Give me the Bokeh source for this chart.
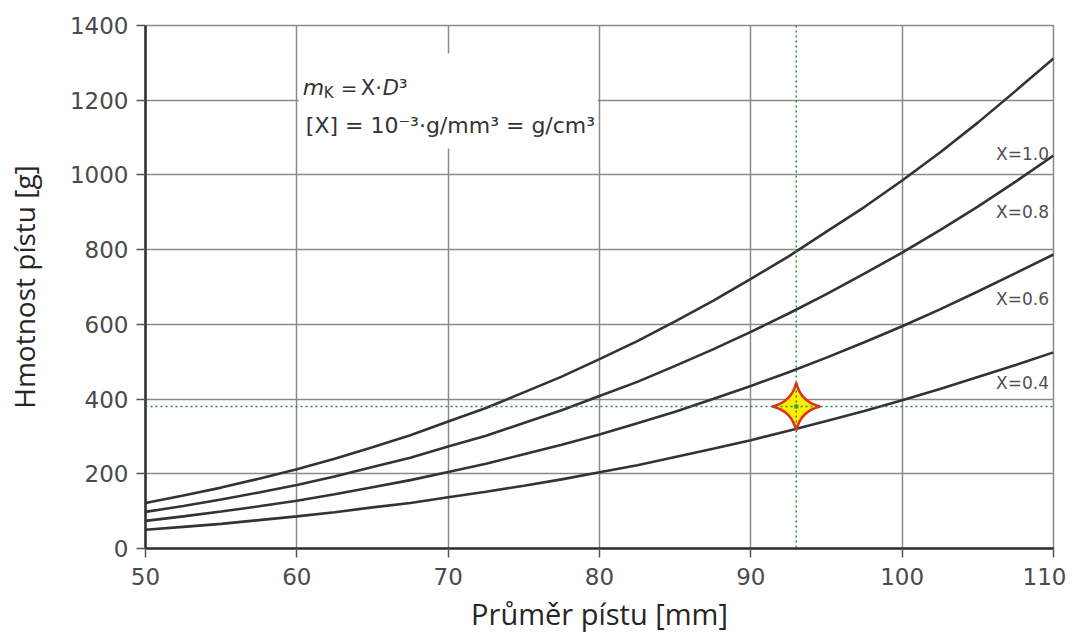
import math
from bokeh.plotting import figure
from bokeh.models import Span, Label, FixedTicker
from bokeh.embed import file_html
from bokeh.resources import INLINE

# ---- data ----
diameter_mm = [50, 52.5, 55, 57.5, 60, 62.5, 65, 67.5, 70, 72.5, 75, 77.5, 80,
               82.5, 85, 87.5, 90, 92.5, 95, 97.5, 100, 102.5, 105, 107.5, 110]
mass_x10 = [122, 142, 163, 187, 212, 240, 271, 303, 340, 376, 418, 460, 507,
            555, 608, 663, 722, 782, 848, 914, 985, 1060, 1140, 1225, 1312]
mass_x08 = [98, 114, 131, 150, 170, 193, 218, 243, 273, 302, 336, 370, 408,
            446, 489, 533, 580, 629, 681, 736, 792, 852, 915, 982, 1052]
mass_x06 = [74, 86, 99, 113, 128, 145, 164, 183, 205, 227, 252, 278, 305,
            335, 366, 400, 435, 472, 511, 552, 595, 640, 688, 737, 787]
mass_x04 = [50, 58, 66, 76, 86, 97, 110, 122, 137, 152, 168, 185, 204,
            223, 245, 267, 290, 315, 341, 368, 397, 427, 459, 491, 525]
curve_names = ["X=1.0", "X=0.8", "X=0.6", "X=0.4"]
x_ticks = [50, 60, 70, 80, 90, 100, 110]
y_ticks = [0, 200, 400, 600, 800, 1000, 1200, 1400]
point_d = [93]
point_m = [380]

GRID = "#8a8a8a"
CURVE = "#333333"
TXT = "#4a4a4a"
NUM_FONT = "DejaVu Sans"

p = figure(width=1066, height=643, x_range=(50, 110), y_range=(0, 1400),
           output_backend="svg", toolbar_location=None,
           min_border_left=145, min_border_right=13, min_border_top=25, min_border_bottom=95)
p.background_fill_color = "white"
p.border_fill_color = "white"
p.outline_line_color = GRID
p.outline_line_width = 1.5

for ax in (p.xaxis[0], p.yaxis[0]):
    ax.axis_line_color = "#2f2f2f"
    ax.axis_line_width = 2.5
    ax.major_tick_line_color = "#555555"
    ax.major_tick_line_width = 1.5
    ax.major_tick_out = 9
    ax.major_tick_in = 0
    ax.minor_tick_line_color = None
    ax.major_label_text_font = NUM_FONT
    ax.major_label_text_font_size = "23px"
    ax.major_label_text_color = TXT
    ax.axis_label_text_font = "Open Sans"
    ax.axis_label_text_font_style = "normal"
    ax.axis_label_text_color = "#262626"

p.xaxis.ticker = FixedTicker(ticks=x_ticks)
p.yaxis.ticker = FixedTicker(ticks=y_ticks)
p.yaxis.axis_label = "Hmotnost pístu [g]"
p.yaxis.axis_label_text_font_size = "28px"
p.xaxis.axis_label = "Průměr pístu [mm]"
p.xaxis.axis_label_text_font_size = "29px"
p.xaxis.major_label_standoff = 10
p.yaxis.major_label_standoff = 8
p.yaxis.axis_label_standoff = 24
p.xaxis.axis_label_standoff = 6

p.xgrid.grid_line_color = GRID
p.ygrid.grid_line_color = GRID
p.xgrid.grid_line_width = 1.5
p.ygrid.grid_line_width = 1.5

# white box behind the formula (between grid lines 60 and 80)
p.quad(left=60.12, right=79.88, bottom=1071, top=1325, fill_color="white", line_color=None)

for ys in (mass_x10, mass_x08, mass_x06, mass_x04):
    p.line(diameter_mm, ys, line_color=CURVE, line_width=2.6)

# curve labels
for name, yv in zip(curve_names, [1057, 902, 669, 442]):
    p.add_layout(Label(x=109.7, y=yv, text=name, text_align="right", text_baseline="middle",
                       text_font=NUM_FONT, text_font_size="17px", text_color="#505050"))

# highlighted point
p.scatter(point_d, point_m, marker="square_pin", angle=math.pi / 4, size=34,
          fill_color="#ffee00", line_color="#e0301e", line_width=2.5)
p.scatter(point_d, point_m, marker="circle", size=5, fill_color="#6aa84f", line_color=None)

p.add_layout(Span(location=point_d[0], dimension="height", line_color="#2e8b3a",
                  line_dash="2 3", line_width=1.5))
p.add_layout(Span(location=point_m[0], dimension="width", line_color="#2e8b3a",
                  line_dash="2 3", line_width=1.5))

# formula text (anchored at the top-left corner of the 60-80 cell)
FF = "DejaVu Sans"
def lab(text, dx, dy, size, style="normal"):
    p.add_layout(Label(x=60, y=1400, x_offset=dx, y_offset=dy, text=text,
                       text_baseline="alphabetic", text_font=FF, text_font_size=size,
                       text_font_style=style, text_color="#333333"))

lab("m", 6, -62, "22px", "italic")
lab("K", 27, -67, "15px")
lab("=", 44, -62, "20px")
lab("X·", 64, -62, "21px")
lab("D", 86, -62, "21px", "italic")
lab("³", 102, -62, "22px")
lab("[X] = 10⁻³·g/mm³ = g/cm³", 9, -100, "22px")

open("out.html", "w").write(file_html(p, INLINE))
